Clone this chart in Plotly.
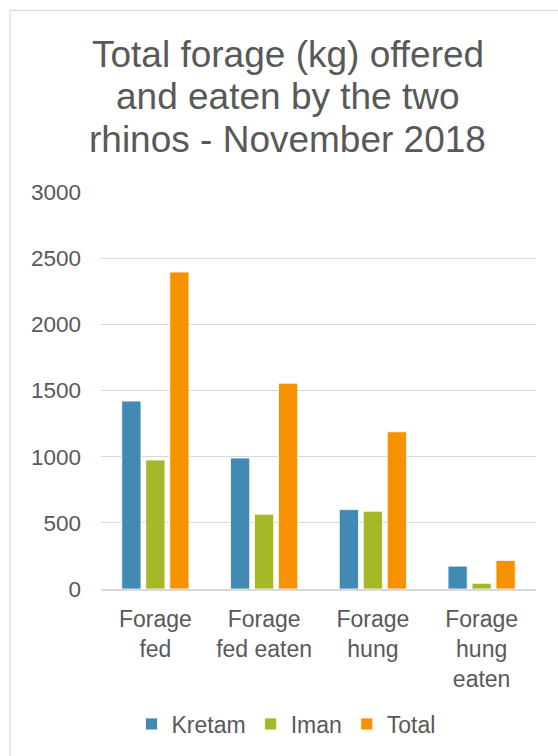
import plotly.graph_objects as go

# Forage categories and amounts (kg)
categories = ["Forage<br>fed", "Forage<br>fed eaten", "Forage<br>hung", "Forage<br>hung<br>eaten"]
kretam = [1420, 990, 600, 173]
iman = [975, 565, 588, 43]
total = [2395, 1555, 1188, 216]

series_names = ["Kretam", "Iman", "Total"]
series_colors = ["#418AB3", "#A6B727", "#F69200"]

title_lines = ["Total forage (kg) offered", "and eaten by the two", "rhinos - November 2018"]

W, H = 558, 756
L, R, T, B = 101, 22, 192, 166
TEXT = "#595959"
FONT = "Liberation Sans, Arial, sans-serif"

fig = go.Figure()
for name, vals, col in zip(series_names, [kretam, iman, total], series_colors):
    fig.add_trace(go.Bar(
        name=name, x=categories, y=vals,
        marker=dict(color=col, line=dict(color="white", width=0.8)),
    ))

# pixel -> paper coordinate helpers
pw, ph = W - L - R, H - T - B
def px_x(x):
    return (x - L) / pw
def px_y(y):
    return (H - B - y) / ph

# chart-area frame (left and top edges fall inside the canvas)
fig.add_shape(type="rect", xref="paper", yref="paper",
              x0=px_x(10), x1=px_x(W + 20), y0=px_y(H + 20), y1=px_y(10),
              line=dict(color="#D9D9D9", width=1.2), layer="below")

# title, one line per annotation for tight line spacing
for i, line in enumerate(title_lines):
    fig.add_annotation(text=line, xref="paper", yref="paper",
                       x=px_x(287.5), xanchor="center",
                       y=px_y(54 + 42.5 * i), yanchor="middle",
                       showarrow=False,
                       font=dict(size=37, color=TEXT, family=FONT))

fig.update_layout(
    width=W, height=H,
    margin=dict(l=L, r=R, t=T, b=B),
    paper_bgcolor="white", plot_bgcolor="white",
    font=dict(family=FONT, color=TEXT),
    barmode="group", bargap=0.338, bargroupgap=0.2,
    showlegend=True,
    legend=dict(orientation="h", x=px_x(286), xanchor="center",
                y=px_y(724), yanchor="middle",
                font=dict(size=23, color=TEXT), itemwidth=30,
                tracegroupgap=0, traceorder="normal"),
)
fig.update_yaxes(range=[0, 3000], dtick=500, showgrid=True,
                 gridcolor="#D9D9D9", gridwidth=1, zeroline=False,
                 showline=False, ticks="", ticklabelstandoff=19,
                 tickfont=dict(size=22.5, color=TEXT))
fig.update_xaxes(showline=True, linecolor="#D9D9D9", linewidth=1.5,
                 ticks="", ticklabelstandoff=9,
                 tickfont=dict(size=23, color=TEXT))

fig.write_html("out.html")
